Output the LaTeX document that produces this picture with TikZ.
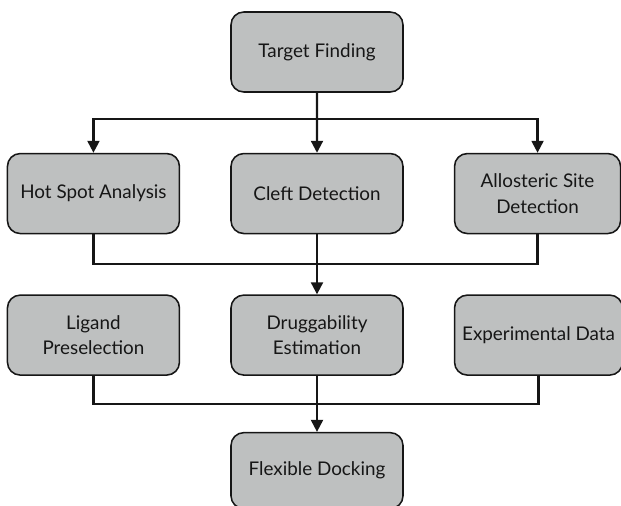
\documentclass[tikz,border=0pt]{standalone}
\usepackage{fontspec}
\setmainfont{Lato}
\usetikzlibrary{arrows.meta, positioning, calc}
\definecolor{boxgray}{RGB}{190, 192, 192}
\definecolor{edgeblack}{RGB}{22, 22, 22}

\begin{document}
\begin{tikzpicture}[
    node distance=1.5cm and 1.25cm,
    block/.style={rectangle, draw=edgeblack, fill=boxgray, line width=1.1pt, align=center, minimum width=4.3cm, minimum height=2cm, rounded corners=0.32cm, text=edgeblack, font=\fontsize{13.4}{18}\selectfont},
    link/.style={line width=1.5pt, edgeblack},
    arrow/.style={link, -{Triangle[length=8.5pt, width=8.5pt]}}
]

\useasboundingbox (0,0) rectangle (15.525,-12.65);

\node (target) [block] at (7.925,-1.3) {Target Finding};

\node (cleft) [block, below=of target] {Cleft Detection};
\node (hotspot) [block, left=of cleft] {Hot Spot Analysis};
\node (allosteric) [block, right=of cleft, minimum width=4.15cm] {Allosteric Site\\Detection};

\node (drugg) [block, below=of cleft] {Druggability\\Estimation};
\node (ligand) [block, left=of drugg] {Ligand\\Preselection};
\node (expdata) [block, right=of drugg, inner xsep=1pt, minimum width=4.2cm] {Experimental Data};

\node (flex) [block, below=1.4cm of drugg, minimum height=1.9cm] {Flexible Docking};

\coordinate (split1) at ($(target.south)!0.43!(cleft.north)$);
\coordinate (merge1) at ($(cleft.south)!0.5!(drugg.north)$);
\coordinate (merge2) at ($(drugg.south)!0.5!(flex.north)$);

\draw[link] (target.south) -- (split1);
\draw[arrow] (split1) -| (hotspot.north);
\draw[arrow] (split1) -- (cleft.north);
\draw[arrow] (split1) -| (allosteric.north);

\draw[link] (hotspot.south) |- (merge1) -| (allosteric.south);
\draw[arrow] (cleft.south) -- (drugg.north);

\draw[link] (ligand.south) |- (merge2) -| (expdata.south);
\draw[arrow] (drugg.south) -- (flex.north);

\end{tikzpicture}
\end{document}
